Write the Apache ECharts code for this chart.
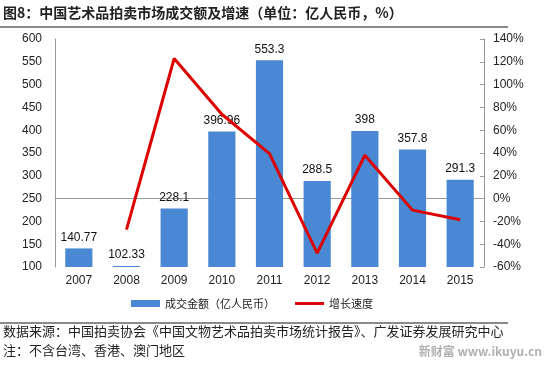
<!DOCTYPE html>
<html><head><meta charset="utf-8">
<script src="https://cdn.jsdelivr.net/npm/echarts@6/dist/echarts.min.js"></script>
<style>html,body{margin:0;padding:0;background:#fff}#c{width:550px;height:368px}</style>
</head><body><div id="c"></div>
<script>
const years = ['2007','2008','2009','2010','2011','2012','2013','2014','2015'];
const amounts = [140.77, 102.33, 228.1, 396.96, 553.3, 288.5, 398, 357.8, 291.3];
const growth = [null, -27.3, 122.9, 74.0, 39.4, -47.9, 38.0, -10.1, -18.6];
const amountLabels = ['140.77','102.33','228.1','396.96','553.3','288.5','398','357.8','291.3'];
const seriesNames = ['成交金额（亿人民币）', '增长速度'];
const titleText = '图8：中国艺术品拍卖市场成交额及增速（单位：亿人民币，%）';
const sourceText = '数据来源：中国拍卖协会《中国文物艺术品拍卖市场统计报告》、广发证券发展研究中心';
const noteText = '注：不含台湾、香港、澳门地区';
const watermark = '新财富 www.ikuyu.cn';

const numFont = 'Liberation Sans, Arial, sans-serif';
const cjkFont = 'Noto Sans CJK SC, sans-serif';
const chart = echarts.init(document.getElementById('c'), null, {renderer: 'canvas'});
chart.setOption({
  animation: false,
  backgroundColor: '#fff',
  grid: {left: 55, right: 66, top: 39, bottom: 101},
  legend: {
    left: 126, top: 293, itemWidth: 29, itemHeight: 7, itemGap: 20,
    textStyle: {fontFamily: cjkFont, fontSize: 11, color: '#222'},
    data: [
      {name: seriesNames[0], icon: 'rect'},
      {name: seriesNames[1], icon: 'path://M0,0H30V3H0Z', itemStyle: {color: '#dd0000'}}
    ]
  },
  xAxis: {
    type: 'category', data: years,
    axisLine: {lineStyle: {color: '#999'}},
    axisTick: {show: false},
    axisLabel: {fontFamily: numFont, fontSize: 12, color: '#222', margin: 8}
  },
  yAxis: [{
    type: 'value', min: 100, max: 600, interval: 50,
    axisLine: {show: true, lineStyle: {color: '#999'}},
    axisTick: {show: false},
    splitLine: {show: false},
    axisLabel: {fontFamily: numFont, fontSize: 12, color: '#222', margin: 13}
  }, {
    type: 'value', min: -60, max: 140, interval: 20, position: 'right',
    axisLine: {show: true, lineStyle: {color: '#999'}},
    axisTick: {show: true, inside: true, length: 4, lineStyle: {color: '#999'}},
    splitLine: {show: false},
    axisLabel: {fontFamily: numFont, fontSize: 12, color: '#222', margin: 9, formatter: '{value}%'}
  }],
  series: [{
    name: seriesNames[0], type: 'bar', data: amounts, yAxisIndex: 0,
    barWidth: '57%',
    itemStyle: {color: '#4a88d3'},
    label: {show: true, position: 'top', distance: 5, fontFamily: numFont, fontSize: 12, color: '#111',
      formatter: p => amountLabels[p.dataIndex]}
  }, {
    name: seriesNames[1], type: 'line', data: growth, yAxisIndex: 1,
    symbol: 'none', lineStyle: {color: '#dd0000', width: 3}, itemStyle: {color: '#dd0000'}
  }],
  graphic: [
    {type: 'text', left: 3, top: 6, style: {text: titleText, font: 'bold 14px ' + cjkFont, fill: '#222'}},
    {type: 'line', shape: {x1: 0, y1: 27, x2: 508, y2: 27}, style: {stroke: '#8a8a8a', lineWidth: 2}},
    {type: 'line', shape: {x1: 0, y1: 323, x2: 508, y2: 323}, style: {stroke: '#8a8a8a', lineWidth: 2}},
    {type: 'text', left: 3, top: 325, style: {text: sourceText, font: '13px ' + cjkFont, fill: '#222'}},
    {type: 'text', left: 3, top: 344, style: {text: noteText, font: '13px ' + cjkFont, fill: '#222'}},
    {type: 'text', right: 8, top: 345, style: {text: watermark, font: 'bold 12px ' + cjkFont, fill: '#b0b0b0'}}
  ]
});
</script></body></html>
